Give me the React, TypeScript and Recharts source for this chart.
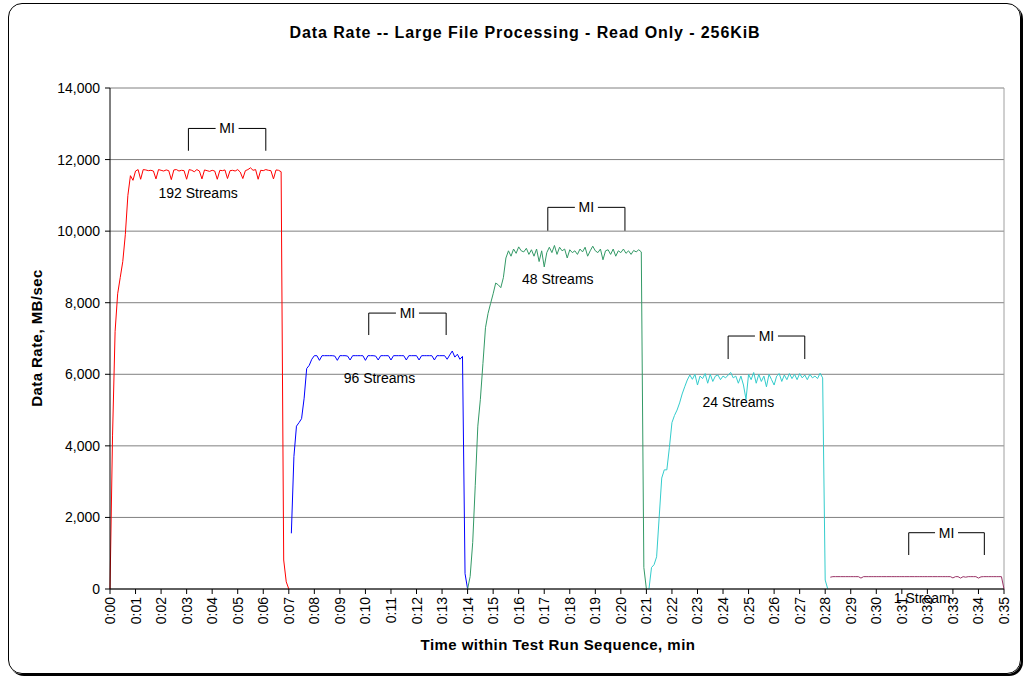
import React from 'react';
import {
  LineChart,
  Line,
  XAxis,
  YAxis,
  CartesianGrid,
  ReferenceLine,
  ReferenceDot,
} from 'recharts';

// sample step of the logged data, in minutes
const STEP = 0.1;

const minuteTicks = [
  0, 1, 2, 3, 4, 5, 6, 7, 8, 9, 10, 11, 12, 13, 14, 15, 16, 17,
  18, 19, 20, 21, 22, 23, 24, 25, 26, 27, 28, 29, 30, 31, 32, 33, 34, 35,
];
const rateTicks = [0, 2000, 4000, 6000, 8000, 10000, 12000, 14000];

const streams192 = [
  0, 4300, 7200, 8250, 8700, 9150, 9900, 11000, 11550, 11420,
  11680, 11720, 11450, 11720, 11710, 11690, 11700, 11680, 11460, 11720,
  11700, 11680, 11710, 11690, 11440, 11710, 11720, 11680, 11700, 11690,
  11450, 11720, 11700, 11660, 11720, 11680, 11460, 11710, 11690, 11670,
  11700, 11680, 11450, 11700, 11690, 11710, 11470, 11690, 11700, 11680,
  11720, 11650, 11470, 11690, 11720, 11770, 11700, 11720, 11450, 11700,
  11690, 11720, 11700, 11690, 11460, 11710, 11700, 11660, 810, 200,
  0,
];

const streams96 = [
  1556, 3700, 4550, 4650, 4760, 5330, 6160, 6250, 6420, 6520,
  6520, 6390, 6520, 6520, 6520, 6520, 6520, 6510, 6390, 6520,
  6520, 6520, 6510, 6400, 6520, 6520, 6520, 6520, 6520, 6390,
  6520, 6520, 6520, 6510, 6400, 6520, 6520, 6520, 6520, 6400,
  6520, 6520, 6520, 6520, 6520, 6400, 6520, 6520, 6520, 6520,
  6400, 6520, 6520, 6520, 6520, 6520, 6400, 6520, 6520, 6520,
  6520, 6420, 6540, 6650, 6480, 6560, 6420, 6500, 430, 0,
];

const streams48 = [
  0, 350, 1300, 2900, 4550, 5300, 6300, 7300, 7700, 7980,
  8250, 8550, 8500, 8420, 8700, 9250, 9450, 9300, 9500, 9380,
  9560, 9450, 9420, 9520, 9350, 9480, 9300, 9500, 9150, 9450,
  9000, 9400, 9550, 9400, 9600, 9350, 9550, 9450, 9500, 9250,
  9480, 9400, 9450, 9350, 9500, 9420, 9550, 9300, 9450, 9580,
  9450, 9400, 9500, 9200, 9450, 9480, 9350, 9500, 9300, 9450,
  9400, 9500, 9380, 9450, 9350, 9460, 9420, 9480, 9420, 600,
  0,
];

const streams24 = [
  0, 600, 680, 900, 2000, 3100, 3330, 3330, 3950, 4650,
  4850, 5000, 5200, 5450, 5650, 5840, 5980, 5860, 6000, 5700,
  5950, 5880, 6020, 5750, 6000, 5800, 5950, 5980, 5850, 5950,
  5900, 5980, 6050, 5900, 5950, 5750, 5950, 5700, 5300, 6000,
  5850, 6050, 5750, 6000, 5800, 5950, 5650, 6000, 5850, 5700,
  5950, 6020, 5800, 5980, 5850, 6020, 5880, 6000, 5850, 6020,
  5900, 5980, 5850, 6000, 5900, 5950, 5880, 6030, 5900, 250,
  0,
];

const streams1 = [
  330, 345, 345, 345, 345, 345, 345, 345, 345, 345,
  345, 345, 305, 345, 345, 345, 345, 345, 345, 345,
  345, 345, 345, 345, 345, 345, 345, 345, 345, 345,
  345, 345, 345, 345, 345, 345, 345, 345, 345, 345,
  345, 345, 345, 345, 345, 345, 345, 345, 310, 345,
  345, 305, 345, 330, 345, 345, 345, 345, 305, 340,
  345, 345, 345, 345, 345, 345, 345, 345, 0,
];

const seriesNames = ['192 Streams', '96 Streams', '48 Streams', '24 Streams', '1 Stream'];
const seriesStarts = [0, 7.1, 14.0, 21.1, 28.2];
const seriesValues = [streams192, streams96, streams48, streams24, streams1];
const seriesColors = ['#FF0000', '#0000FF', '#339966', '#33CCCC', '#993366'];

// where each series caption sits (minutes, MB/sec)
const captionTimes = [3.45, 10.55, 17.53, 24.6, 31.8];
const captionRates = [11064, 5895, 8661, 5225, -250];

// measurement interval brackets
const miStarts = [3.07, 10.13, 17.14, 24.2, 31.27];
const miEnds = [6.1, 13.16, 20.16, 27.2, 34.23];
const miTops = [12870, 7710, 10665, 7069, 1573];
const miBottoms = [12246, 7097, 10011, 6426, 950];

const FONT = '"Liberation Sans", Arial, sans-serif';

const fmtMinute = (m: number) => `0:${m < 10 ? '0' : ''}${m}`;

const XTick = (props: any) => {
  const { x, y, payload } = props;
  return (
    <text
      x={x}
      y={y}
      transform={`rotate(-90 ${x} ${y})`}
      textAnchor="end"
      dy={5}
      fontSize={14}
      fontFamily={FONT}
      fill="#000"
    >
      {fmtMinute(payload.value)}
    </text>
  );
};

const textShape = (value: string) => (p: any) => (
  <text
    x={p.cx}
    y={p.cy}
    textAnchor="middle"
    dominantBaseline="central"
    fontSize={14}
    fontFamily={FONT}
    fill="#000"
  >
    {value}
  </text>
);

export default function App() {
  const lines = seriesValues.map((vals, s) =>
    vals.map((v, i) => ({ t: +(seriesStarts[s] + i * STEP).toFixed(2), v }))
  );

  const gap = 0.45;

  return (
    <div style={{ position: 'relative', width: 1024, height: 677, background: '#fff' }}>
      <style>{`body{margin:0}`}</style>
      <div
        style={{
          position: 'absolute',
          left: 8,
          top: 3,
          width: 1011,
          height: 669,
          border: '1px solid #000',
          borderRadius: 14,
          boxShadow: '2px 2px 0 #000',
        }}
      />
      <LineChart
        width={1024}
        height={677}
        margin={{ top: 88, right: 20, left: 0, bottom: 48 }}
        style={{ position: 'absolute', left: 0, top: 0 }}
      >
        <CartesianGrid vertical={false} stroke="#808080" />
        <XAxis
          dataKey="t"
          type="number"
          domain={[0, 35]}
          ticks={minuteTicks}
          interval={0}
          height={40}
          tick={<XTick />}
          tickSize={5}
          tickMargin={3}
          axisLine={{ stroke: '#000' }}
          tickLine={{ stroke: '#000' }}
          allowDuplicatedCategory={false}
        />
        <YAxis
          type="number"
          domain={[0, 14000]}
          ticks={rateTicks}
          width={110}
          tickSize={5}
          tickMargin={5}
          tickFormatter={(v: number) => v.toLocaleString('en-US')}
          tick={{ fontSize: 14, fontFamily: FONT, fill: '#000' }}
          axisLine={{ stroke: '#000' }}
          tickLine={{ stroke: '#000' }}
        />
        <ReferenceLine x={35} stroke="#a0a0a0" />
        {lines.map((d, s) => (
          <Line
            key={seriesNames[s]}
            data={d}
            dataKey="v"
            name={seriesNames[s]}
            type="linear"
            stroke={seriesColors[s]}
            strokeWidth={1}
            dot={false}
            isAnimationActive={false}
          />
        ))}
        {miStarts.map((x0, i) => {
          const x1 = miEnds[i];
          const mid = (x0 + x1) / 2;
          return (
            <React.Fragment key={`mi${i}`}>
              <ReferenceLine segment={[{ x: x0, y: miBottoms[i] }, { x: x0, y: miTops[i] }]} stroke="#000" ifOverflow="visible" />
              <ReferenceLine segment={[{ x: x0, y: miTops[i] }, { x: mid - gap, y: miTops[i] }]} stroke="#000" ifOverflow="visible" />
              <ReferenceLine segment={[{ x: mid + gap, y: miTops[i] }, { x: x1, y: miTops[i] }]} stroke="#000" ifOverflow="visible" />
              <ReferenceLine segment={[{ x: x1, y: miTops[i] }, { x: x1, y: miBottoms[i] }]} stroke="#000" ifOverflow="visible" />
              <ReferenceDot x={mid} y={miTops[i]} ifOverflow="visible" shape={textShape('MI')} />
            </React.Fragment>
          );
        })}
        {captionTimes.map((x, i) => (
          <ReferenceDot
            key={`cap${i}`}
            x={x}
            y={captionRates[i]}
            ifOverflow="visible"
            shape={textShape(seriesNames[i])}
          />
        ))}
      </LineChart>
      <svg
        width={1024}
        height={677}
        style={{ position: 'absolute', left: 0, top: 0, pointerEvents: 'none' }}
      >
        <text x={525} y={38} textAnchor="middle" fontSize={16} fontWeight="bold" letterSpacing={0.9} fontFamily={FONT}>
          Data Rate -- Large File Processing - Read Only - 256KiB
        </text>
        <text x={558} y={650} textAnchor="middle" fontSize={15} fontWeight="bold" letterSpacing={0.45} fontFamily={FONT}>
          Time within Test Run Sequence, min
        </text>
        <text
          x={42}
          y={338}
          transform="rotate(-90 42 338)"
          textAnchor="middle"
          fontSize={15}
          fontWeight="bold"
          letterSpacing={0.45}
          fontFamily={FONT}
        >
          Data Rate, MB/sec
        </text>
      </svg>
    </div>
  );
}
